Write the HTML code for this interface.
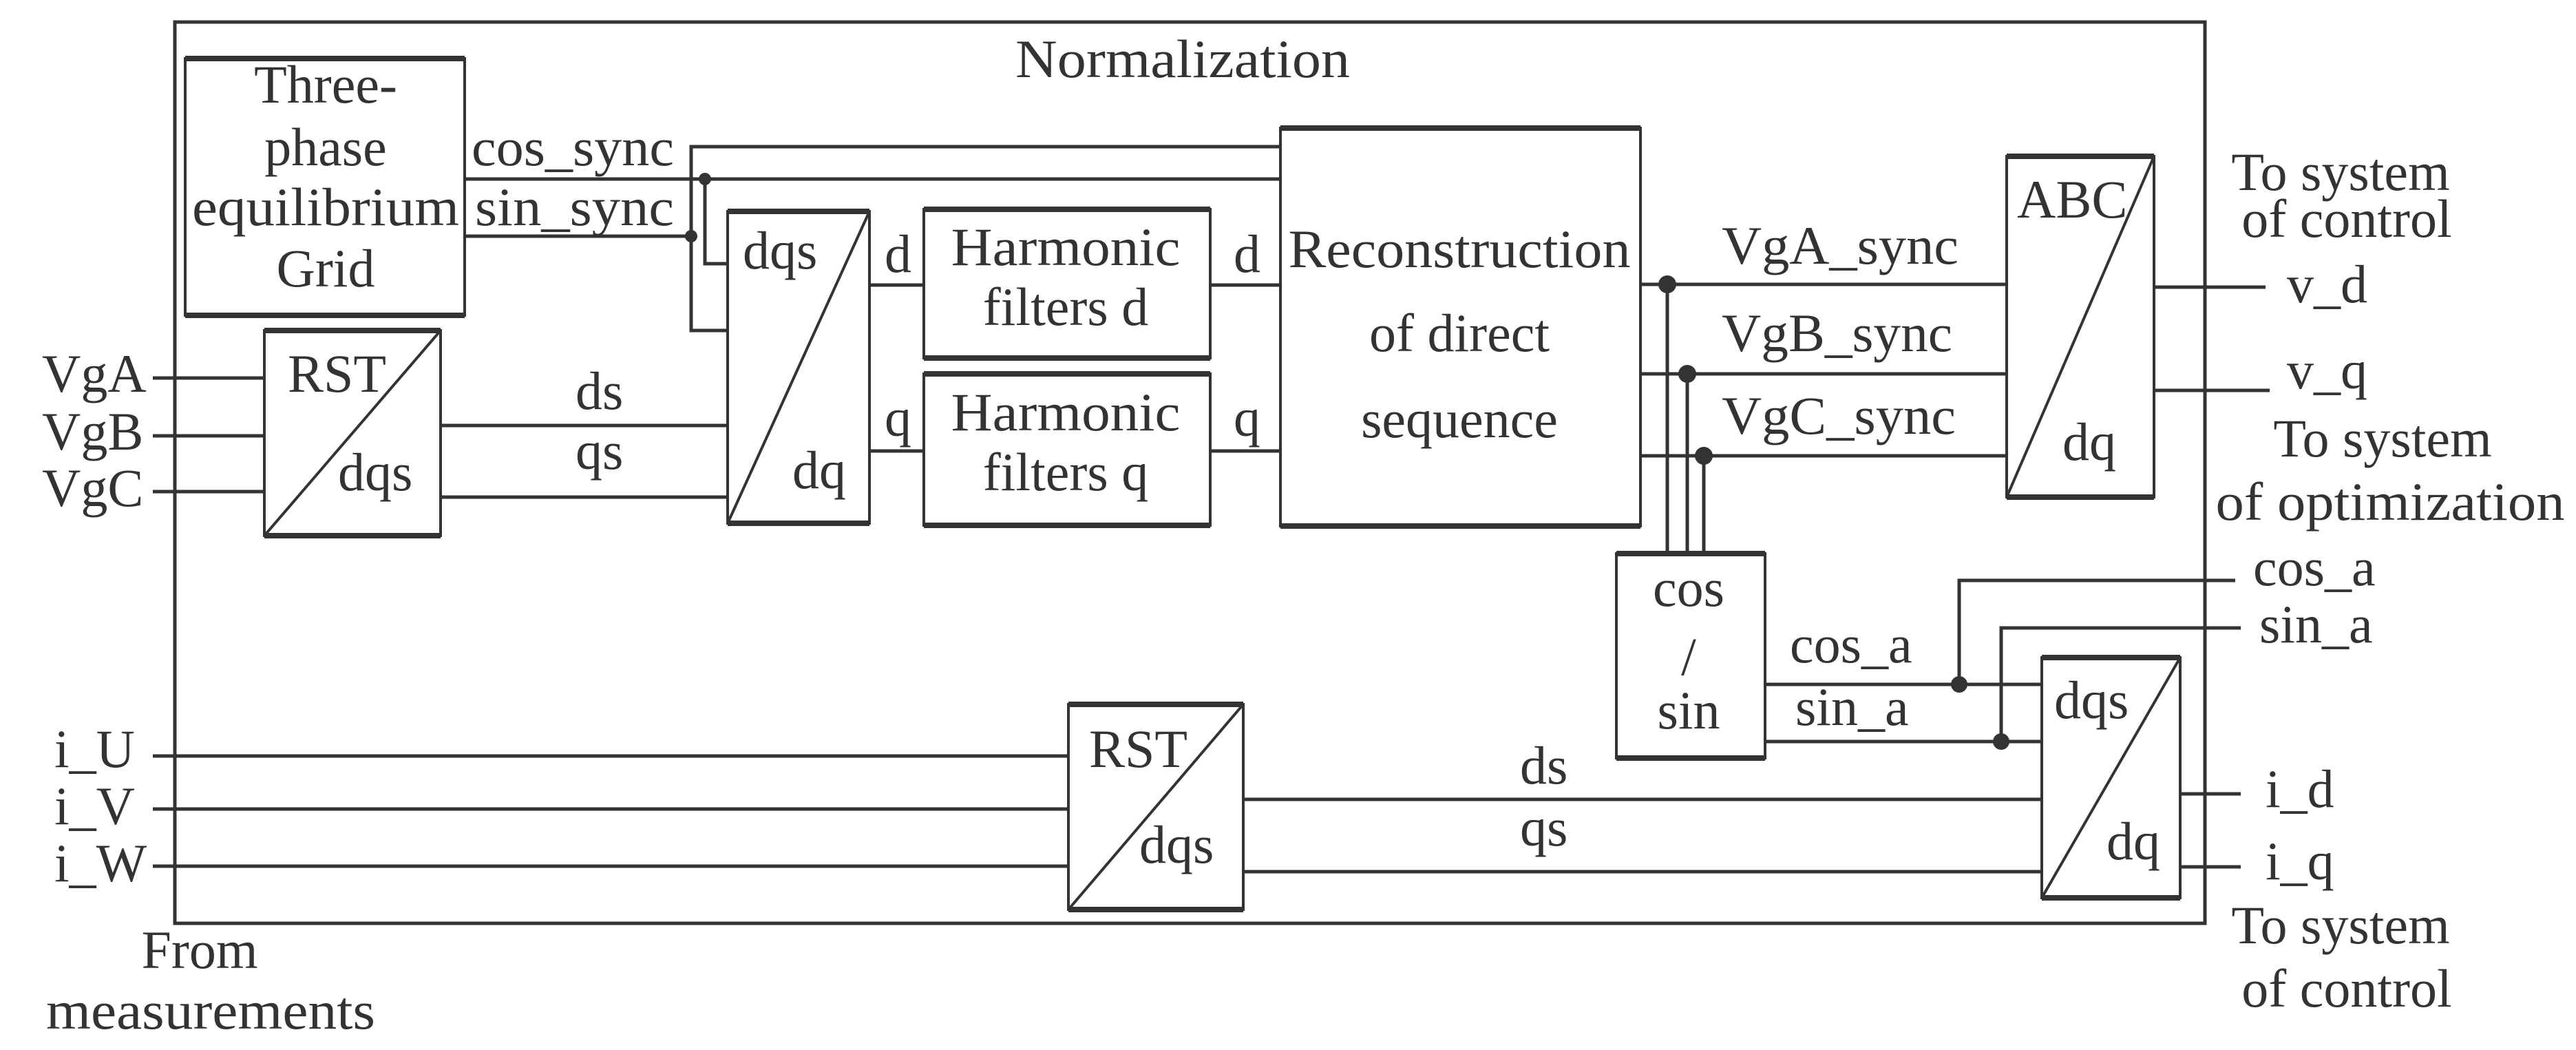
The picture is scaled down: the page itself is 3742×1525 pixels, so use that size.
<!DOCTYPE html>
<html><head><meta charset="utf-8"><style>html,body{margin:0;padding:0;background:#fff}svg{display:block}</style></head><body>
<svg width="3742" height="1525" viewBox="0 0 3742 1525" xmlns="http://www.w3.org/2000/svg">
<g fill="none" stroke="#333" stroke-width="4" stroke-linecap="butt">
<!-- frame -->
<rect x="254" y="32" width="2949" height="1309" stroke-width="5"/>
<!-- boxes -->
<rect x="269" y="85" width="406" height="373"/>
<rect x="384" y="480" width="256" height="298"/>
<line x1="384" y1="778" x2="640" y2="480"/>
<rect x="1057" y="307" width="206" height="453"/>
<line x1="1057" y1="760" x2="1263" y2="307"/>
<rect x="1342" y="304" width="416" height="216"/>
<rect x="1342" y="543" width="416" height="220"/>
<rect x="1860" y="186" width="523" height="578"/>
<rect x="2915" y="227" width="214" height="495"/>
<line x1="2915" y1="722" x2="3129" y2="227"/>
<rect x="2348" y="804" width="216" height="297"/>
<rect x="2966" y="955" width="201" height="349"/>
<line x1="2966" y1="1304" x2="3167" y2="955"/>
<rect x="1552" y="1023" width="254" height="298"/>
<line x1="1552" y1="1321" x2="1806" y2="1023"/>
</g>
<g stroke="#333" stroke-width="8">
<line x1="269" y1="85" x2="675" y2="85"/><line x1="269" y1="458" x2="675" y2="458"/>
<line x1="384" y1="480" x2="640" y2="480"/><line x1="384" y1="778" x2="640" y2="778"/>
<line x1="1057" y1="307" x2="1263" y2="307"/><line x1="1057" y1="760" x2="1263" y2="760"/>
<line x1="1342" y1="304" x2="1758" y2="304"/><line x1="1342" y1="520" x2="1758" y2="520"/>
<line x1="1342" y1="543" x2="1758" y2="543"/><line x1="1342" y1="763" x2="1758" y2="763"/>
<line x1="1860" y1="186" x2="2383" y2="186"/><line x1="1860" y1="764" x2="2383" y2="764"/>
<line x1="2915" y1="227" x2="3129" y2="227"/><line x1="2915" y1="722" x2="3129" y2="722"/>
<line x1="2348" y1="804" x2="2564" y2="804"/><line x1="2348" y1="1101" x2="2564" y2="1101"/>
<line x1="2966" y1="955" x2="3167" y2="955"/><line x1="2966" y1="1304" x2="3167" y2="1304"/>
<line x1="1552" y1="1023" x2="1806" y2="1023"/><line x1="1552" y1="1321" x2="1806" y2="1321"/>
</g>
<g fill="none" stroke="#333" stroke-width="5">
<!-- sync lines -->
<polyline points="1858,213 1004,213 1004,480 1057,480"/>
<line x1="675" y1="260" x2="1858" y2="260"/>
<polyline points="1024,260 1024,383 1057,383"/>
<line x1="675" y1="343" x2="1004" y2="343"/>
<!-- VgA/B/C -->
<line x1="222" y1="549" x2="384" y2="549"/>
<line x1="222" y1="633" x2="384" y2="633"/>
<line x1="222" y1="714" x2="384" y2="714"/>
<line x1="640" y1="618" x2="1057" y2="618"/>
<line x1="640" y1="722" x2="1057" y2="722"/>
<line x1="1263" y1="414" x2="1342" y2="414"/><line x1="1758" y1="414" x2="1860" y2="414"/>
<line x1="1263" y1="655" x2="1342" y2="655"/><line x1="1758" y1="655" x2="1860" y2="655"/>
<!-- sync outputs -->
<line x1="2383" y1="413" x2="2915" y2="413"/>
<line x1="2383" y1="543" x2="2915" y2="543"/>
<line x1="2383" y1="662" x2="2915" y2="662"/>
<line x1="2422" y1="413" x2="2422" y2="804"/>
<line x1="2451" y1="543" x2="2451" y2="804"/>
<line x1="2475" y1="662" x2="2475" y2="804"/>
<line x1="3129" y1="417" x2="3291" y2="417"/>
<line x1="3129" y1="567" x2="3297" y2="567"/>
<!-- cos/sin -->
<line x1="2564" y1="994" x2="2966" y2="994"/>
<line x1="2564" y1="1077" x2="2966" y2="1077"/>
<polyline points="2846,994 2846,843 3247,843"/>
<polyline points="2907,1077 2907,912 3255,912"/>
<!-- currents -->
<line x1="222" y1="1098" x2="1552" y2="1098"/>
<line x1="222" y1="1175" x2="1552" y2="1175"/>
<line x1="222" y1="1258" x2="1552" y2="1258"/>
<line x1="1806" y1="1161" x2="2966" y2="1161"/>
<line x1="1806" y1="1266" x2="2966" y2="1266"/>
<line x1="3167" y1="1153" x2="3255" y2="1153"/>
<line x1="3167" y1="1259" x2="3255" y2="1259"/>
</g>
<g fill="#333">
<circle cx="1024" cy="260" r="9"/><circle cx="1004" cy="343" r="9"/>
<circle cx="2422" cy="413" r="13"/><circle cx="2451" cy="543" r="13"/><circle cx="2475" cy="662" r="13"/>
<circle cx="2846" cy="994" r="12"/><circle cx="2907" cy="1077" r="12"/>
</g>
<g fill="#333" font-family="'Liberation Serif', serif" font-size="78">
<text x="1475" y="112" textLength="486" lengthAdjust="spacingAndGlyphs">Normalization</text>
<g text-anchor="middle">
<text x="473" y="149">Three-</text>
<text x="473" y="240">phase</text>
<text x="473" y="327" textLength="388" lengthAdjust="spacingAndGlyphs">equilibrium</text>
<text x="473" y="416">Grid</text>
<text x="1548" y="385" textLength="333" lengthAdjust="spacingAndGlyphs">Harmonic</text>
<text x="1548" y="472">filters d</text>
<text x="1548" y="625" textLength="333" lengthAdjust="spacingAndGlyphs">Harmonic</text>
<text x="1548" y="712">filters q</text>
<text x="2120" y="388" textLength="497" lengthAdjust="spacingAndGlyphs">Reconstruction</text>
<text x="2120" y="510">of direct</text>
<text x="2120" y="635">sequence</text>
<text x="2453" y="880">cos</text>
<text x="2453" y="980">/</text>
<text x="2453" y="1058">sin</text>
<text x="3400" y="276">To system</text>
<text x="3409" y="344">of control</text>
<text x="3461" y="663">To system</text>
<text x="3472" y="755" textLength="507" lengthAdjust="spacingAndGlyphs">of optimization</text>
<text x="3400" y="1370">To system</text>
<text x="3409" y="1462">of control</text>
<text x="306" y="1494" textLength="478" lengthAdjust="spacingAndGlyphs">measurements</text>
<text x="290" y="1406">From</text>
</g>
<text x="685" y="240" textLength="294" lengthAdjust="spacingAndGlyphs">cos_sync</text>
<text x="690" y="327" textLength="289" lengthAdjust="spacingAndGlyphs">sin_sync</text>
<text x="1079" y="390">dqs</text>
<text x="1151" y="709">dq</text>
<text x="1285" y="395">d</text><text x="1792" y="395">d</text>
<text x="1285" y="633">q</text><text x="1792" y="633">q</text>
<text x="418" y="569">RST</text>
<text x="491" y="712">dqs</text>
<text x="61" y="569">VgA</text>
<text x="61" y="653">VgB</text>
<text x="61" y="735">VgC</text>
<text x="836" y="594">ds</text>
<text x="836" y="681">qs</text>
<text x="2501" y="383" textLength="344" lengthAdjust="spacingAndGlyphs">VgA_sync</text>
<text x="2501" y="510" textLength="335" lengthAdjust="spacingAndGlyphs">VgB_sync</text>
<text x="2501" y="630" textLength="340" lengthAdjust="spacingAndGlyphs">VgC_sync</text>
<text x="2930" y="316">ABC</text>
<text x="2996" y="668">dq</text>
<text x="3322" y="439">v_d</text>
<text x="3322" y="564">v_q</text>
<text x="3273" y="850">cos_a</text>
<text x="3282" y="933">sin_a</text>
<text x="2600" y="962">cos_a</text>
<text x="2608" y="1053">sin_a</text>
<text x="2984" y="1043">dqs</text>
<text x="3060" y="1248">dq</text>
<text x="2208" y="1138">ds</text>
<text x="2208" y="1228">qs</text>
<text x="3291" y="1172">i_d</text>
<text x="3291" y="1277">i_q</text>
<text x="1582" y="1114">RST</text>
<text x="1655" y="1253">dqs</text>
<text x="79" y="1114">i_U</text>
<text x="79" y="1197">i_V</text>
<text x="79" y="1280">i_W</text>
</g>
</svg>
</body></html>
